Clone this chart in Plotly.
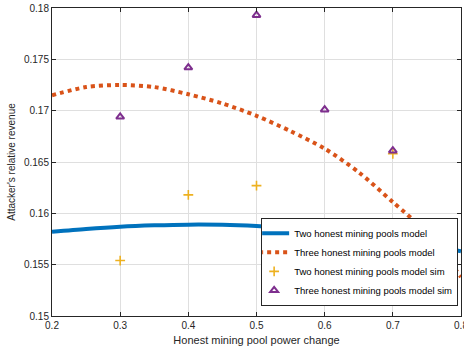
import plotly.graph_objects as go

x_model = [0.2, 0.25, 0.3, 0.35, 0.4, 0.45, 0.5, 0.55, 0.6, 0.65, 0.7, 0.75, 0.8]
two_model = [0.1582, 0.15848, 0.1587, 0.15883, 0.1589, 0.15888, 0.15876, 0.15856, 0.1583, 0.15793, 0.1575, 0.15698, 0.1563]
three_model = [0.1715, 0.1723, 0.1725, 0.1723, 0.1716, 0.1707, 0.1695, 0.1680, 0.1663, 0.1640, 0.1611, 0.1581, 0.1538]

x_sim = [0.3, 0.4, 0.5, 0.6, 0.7]
two_sim = [0.1554, 0.1618, 0.1627, 0.1579, 0.1658]
three_sim = [0.1694, 0.1742, 0.1793, 0.1701, 0.1661]

xticks = [0.2, 0.3, 0.4, 0.5, 0.6, 0.7, 0.8]
yticks = [0.15, 0.155, 0.16, 0.165, 0.17, 0.175, 0.18]

font = "Liberation Sans, Arial, Helvetica, sans-serif"
axc = "#262626"

fig = go.Figure()
fig.add_trace(go.Scatter(x=x_model, y=two_model, mode="lines", line=dict(color="#0072BD", width=4, shape="spline", smoothing=0.8),
                         name="Two honest mining pools model"))
fig.add_trace(go.Scatter(x=x_model, y=three_model, mode="lines", line=dict(color="#D95319", width=4, dash="dot", shape="spline", smoothing=0.8),
                         name="Three honest mining pools model"))
fig.add_trace(go.Scatter(x=x_sim, y=two_sim, mode="markers",
                         marker=dict(symbol="cross-thin", size=7, line=dict(color="#EDB120", width=1.6), color="#EDB120"),
                         name="Two honest mining pools model sim"))
fig.add_trace(go.Scatter(x=x_sim, y=three_sim, mode="markers",
                         marker=dict(symbol="triangle-up-open", size=7, line=dict(color="#7E2F8E", width=2), color="#7E2F8E"),
                         name="Three honest mining pools model sim"))

axis_common = dict(showline=True, linecolor=axc, linewidth=1, mirror="allticks", ticks="inside", ticklen=4,
                   tickcolor=axc, showgrid=True, gridcolor="#DFDFDF", gridwidth=1, zeroline=False,
                   tickfont=dict(family=font, size=10, color=axc), ticklabeloverflow="allow")

fig.update_xaxes(range=[0.2, 0.8], tickvals=xticks, ticktext=[str(v) for v in xticks],
                 title=dict(text="Honest mining pool power change", font=dict(family=font, size=11, color=axc), standoff=6),
                 **axis_common)
fig.update_yaxes(range=[0.15, 0.18], tickvals=yticks, ticktext=[f"{v:g}" for v in yticks],
                 title=dict(text="Attacker's relative revenue", font=dict(family=font, size=10, color=axc), standoff=6),
                 **axis_common)

fig.update_layout(
    width=464, height=351,
    margin=dict(l=52, r=3, t=8, b=35, autoexpand=False),
    plot_bgcolor="white", paper_bgcolor="white",
    font=dict(family=font, size=10, color=axc),
    legend=dict(x=0.993, y=0.033, xanchor="right", yanchor="bottom", bgcolor="white",
                bordercolor=axc, borderwidth=1, font=dict(family=font, size=9.5, color="#000000"),
                tracegroupgap=0, itemwidth=30, indentation=-8),
)

fig.write_html("out.html")
